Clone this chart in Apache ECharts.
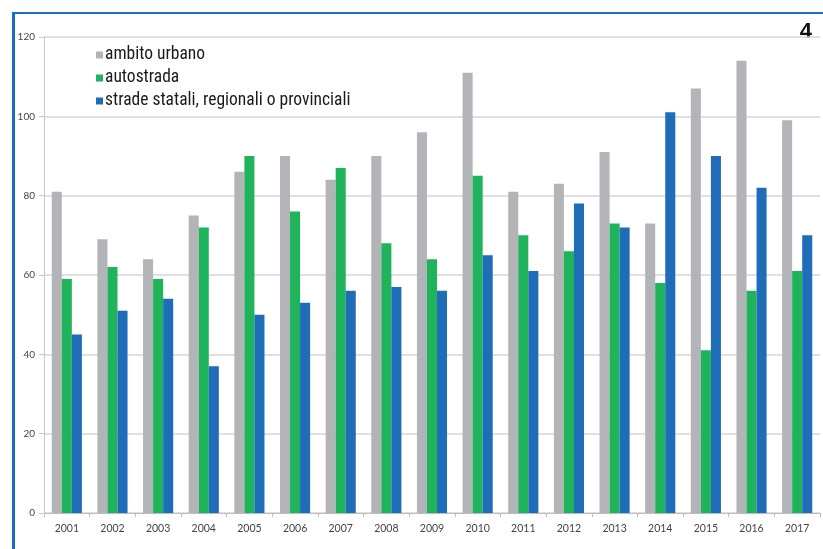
<!DOCTYPE html>
<html>
<head>
<meta charset="utf-8">
<script src="https://cdn.jsdelivr.net/npm/echarts@6/dist/echarts.min.js"></script>
<style>
  html, body { margin: 0; padding: 0; background: #ffffff; }
  #chart { width: 823px; height: 549px; }
</style>
</head>
<body>
<div id="chart"></div>
<script>
// Years on the category axis
const years = ['2001','2002','2003','2004','2005','2006','2007','2008','2009',
               '2010','2011','2012','2013','2014','2015','2016','2017'];

// Series names
const seriesNames = ['ambito urbano', 'autostrada', 'strade statali, regionali o provinciali'];

// Values per series
const ambitoUrbano = [81, 69, 64, 75, 86, 90, 84, 90, 96, 111, 81, 83, 91, 73, 107, 114, 99];
const autostrada   = [59, 62, 59, 72, 90, 76, 87, 68, 64, 85, 70, 66, 73, 58, 41, 56, 61];
const stradeStatali = [45, 51, 54, 37, 50, 53, 56, 57, 56, 65, 61, 78, 72, 101, 90, 82, 70];

// Value axis ticks
const yTicks = [0, 20, 40, 60, 80, 100, 120];

const colors = ['#b3b4b8', '#1fb35c', '#1f6cb9'];
const axisFont = 'Lato, "DejaVu Sans", sans-serif';
const legendFont = '"Liberation Sans Narrow", "Roboto Condensed", Roboto, sans-serif';

const chart = echarts.init(document.getElementById('chart'), null, { renderer: 'canvas' });

const seriesData = [ambitoUrbano, autostrada, stradeStatali];

chart.setOption({
  animation: false,
  backgroundColor: '#ffffff',
  color: colors,
  grid: { left: 44, right: 3, top: 37, bottom: 36, containLabel: false },
  legend: {
    orient: 'vertical',
    left: 91,
    top: 41,
    itemGap: 5,
    itemWidth: 7,
    itemHeight: 7,
    icon: 'rect',
    data: seriesNames,
    textStyle: { fontFamily: legendFont, fontSize: 17.5, color: '#1a1a1a', padding: [0, 0, 0, -3] }
  },
  xAxis: {
    type: 'category',
    data: years,
    boundaryGap: true,
    axisLine: { show: true, lineStyle: { color: '#bdbdbd', width: 1 } },
    axisTick: { show: true, alignWithLabel: false, length: 4, lineStyle: { color: '#bdbdbd' } },
    axisLabel: { fontFamily: axisFont, fontSize: 10.5, color: '#444', margin: 10 },
    splitLine: { show: false }
  },
  yAxis: {
    type: 'value',
    min: yTicks[0],
    max: yTicks[yTicks.length - 1],
    interval: yTicks[1] - yTicks[0],
    axisLine: { show: true, lineStyle: { color: '#c8c8c8', width: 1 } },
    axisTick: { show: true, length: 5, lineStyle: { color: '#c8c8c8' } },
    axisLabel: { fontFamily: axisFont, fontSize: 10, color: '#444', margin: 9 },
    splitLine: { show: true, lineStyle: { color: '#d6d6d6', width: 1.5 } }
  },
  series: seriesNames.map((name, i) => ({
    name: name,
    type: 'bar',
    data: seriesData[i],
    barGap: '0%',
    barCategoryGap: '34%',
    itemStyle: { color: colors[i] }
  })),
  graphic: [
    {
      type: 'rect',
      left: 12, top: 12,
      shape: { width: 3, height: 549 },
      style: { fill: '#1a6fc2' }
    },
    {
      type: 'rect',
      left: 12, top: 12,
      shape: { width: 823, height: 2 },
      style: { fill: '#1a6fc2' }
    },
    {
      type: 'text',
      right: 11, top: 21,
      style: {
        text: '4',
        fontFamily: '"Liberation Sans Narrow", "Liberation Sans", sans-serif',
        fontWeight: 'bold',
        fontSize: 22,
        fill: '#111'
      }
    }
  ]
});
</script>
</body>
</html>
